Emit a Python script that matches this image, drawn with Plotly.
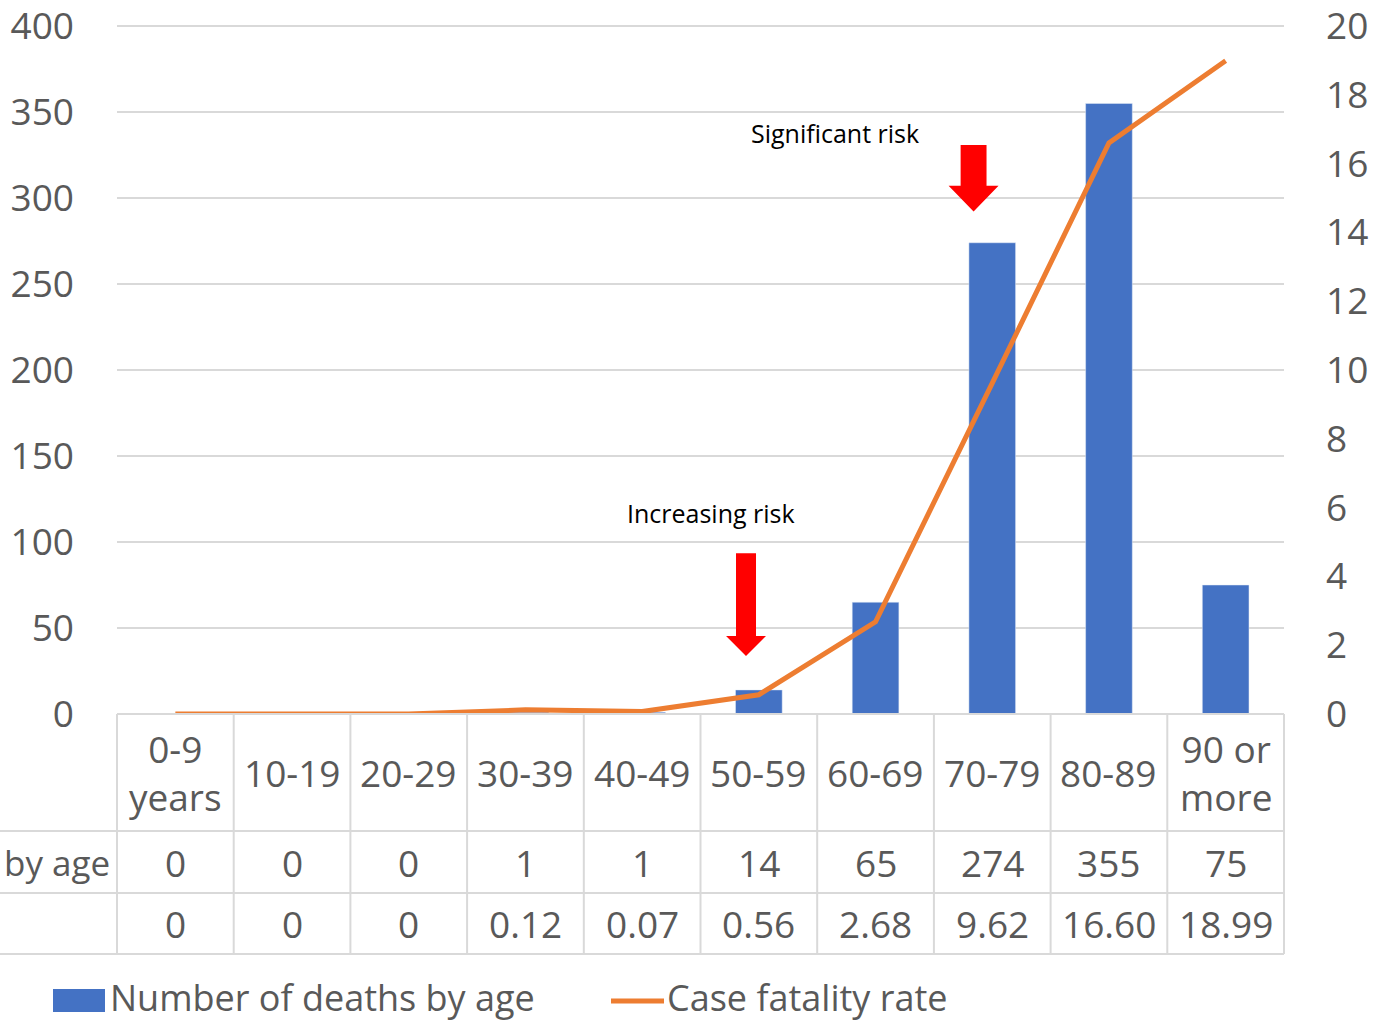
import plotly.graph_objects as go

categories = ["0-9<br>years", "10-19", "20-29", "30-39", "40-49", "50-59",
              "60-69", "70-79", "80-89", "90 or<br>more"]
deaths = [0, 0, 0, 1, 1, 14, 65, 274, 355, 75]
cfr = [0, 0, 0, 0.12, 0.07, 0.56, 2.68, 9.62, 16.60, 18.99]
cfr_labels = ["0", "0", "0", "0.12", "0.07", "0.56", "2.68", "9.62", "16.60", "18.99"]
series_names = ["Number of deaths by age", "Case fatality rate"]
left_ticks = [0, 50, 100, 150, 200, 250, 300, 350, 400]
right_ticks = [0, 2, 4, 6, 8, 10, 12, 14, 16, 18, 20]

BLUE = "#4472C4"
ORANGE = "#ED7D31"
GRAY = "#595959"
GRID = "#d9d9d9"
FONT = "Open Sans"
FS = 37

W, H = 1383, 1022
L, R, T, B = 117, 99, 25, 308
PW = W - L - R
PH = H - T - B
n = len(categories)
xs = list(range(n))


def py2paper(py):
    return (H - B - py) / PH


def px2paper(px):
    return (px - L) / PW


fig = go.Figure()
fig.add_trace(go.Bar(x=xs, y=deaths, name=series_names[0], marker_color=BLUE,
                     width=0.4, yaxis="y", showlegend=False))
fig.add_trace(go.Scatter(x=xs, y=cfr, name=series_names[1], mode="lines",
                         line=dict(color=ORANGE, width=5), yaxis="y2",
                         showlegend=False))

shapes = []
annotations = []

# data table grid
row_lines = [714, 831, 893, 954]
for i, py in enumerate(row_lines):
    x0 = px2paper(117) if i == 0 else px2paper(0)
    shapes.append(dict(type="line", xref="paper", yref="paper",
                       x0=x0, x1=1, y0=py2paper(py), y1=py2paper(py),
                       line=dict(color=GRID, width=2)))
for i in range(n + 1):
    xp = i / n
    shapes.append(dict(type="line", xref="paper", yref="paper",
                       x0=xp, x1=xp, y0=py2paper(714), y1=py2paper(954),
                       line=dict(color=GRID, width=2)))

row_centers = [772.5, 862, 923.5]
for i in range(n):
    annotations.append(dict(x=xs[i], xref="x", y=py2paper(row_centers[0]), yref="paper",
                            text=categories[i], showarrow=False,
                            font=dict(family=FONT, size=FS, color=GRAY),
                            xanchor="center", yanchor="middle"))
    annotations.append(dict(x=xs[i], xref="x", y=py2paper(row_centers[1]), yref="paper",
                            text=str(deaths[i]), showarrow=False,
                            font=dict(family=FONT, size=FS, color=GRAY),
                            xanchor="center", yanchor="middle"))
    annotations.append(dict(x=xs[i], xref="x", y=py2paper(row_centers[2]), yref="paper",
                            text=cfr_labels[i], showarrow=False,
                            font=dict(family=FONT, size=FS, color=GRAY),
                            xanchor="center", yanchor="middle"))
annotations.append(dict(x=px2paper(112), xref="paper", y=py2paper(row_centers[1]), yref="paper",
                        text="by age", showarrow=False,
                        font=dict(family=FONT, size=35, color=GRAY),
                        xanchor="right", yanchor="middle"))

# risk annotations
annotations.append(dict(x=5.65, y=338, xref="x", yref="y", text="Significant risk",
                        showarrow=False, font=dict(family=FONT, size=25, color="black"),
                        xanchor="center", yanchor="middle"))
annotations.append(dict(x=4.59, y=116.7, xref="x", yref="y", text="Increasing risk",
                        showarrow=False, font=dict(family=FONT, size=25, color="black"),
                        xanchor="center", yanchor="middle"))


def arrow(xc, sw, hw, ytop, yh, ytip):
    return (f"M {xc-sw},{ytop} L {xc+sw},{ytop} L {xc+sw},{yh} L {xc+hw},{yh} "
            f"L {xc},{ytip} L {xc-hw},{yh} L {xc-sw},{yh} Z")


shapes.append(dict(type="path", xref="x", yref="y",
                   path=arrow(4.89, 0.0857, 0.171, 93.5, 45.3, 33.7),
                   fillcolor="#FF0000", line=dict(width=0)))
shapes.append(dict(type="path", xref="x", yref="y",
                   path=arrow(6.84, 0.111, 0.214, 330.9, 307.1, 292.2),
                   fillcolor="#FF0000", line=dict(width=0)))

# custom legend
LEG_Y = 997
shapes.append(dict(type="rect", xref="paper", yref="paper",
                   x0=px2paper(53), x1=px2paper(105), y0=py2paper(989), y1=py2paper(1012),
                   fillcolor=BLUE, line=dict(width=0)))
annotations.append(dict(x=px2paper(108), y=py2paper(LEG_Y), xref="paper", yref="paper",
                        text=series_names[0], showarrow=False,
                        font=dict(family=FONT, size=36, color=GRAY),
                        xanchor="left", yanchor="middle"))
shapes.append(dict(type="line", xref="paper", yref="paper",
                   x0=px2paper(611), x1=px2paper(664), y0=py2paper(1001), y1=py2paper(1001),
                   line=dict(color=ORANGE, width=5)))
annotations.append(dict(x=px2paper(665), y=py2paper(LEG_Y), xref="paper", yref="paper",
                        text=series_names[1], showarrow=False,
                        font=dict(family=FONT, size=36, color=GRAY),
                        xanchor="left", yanchor="middle"))

fig.update_layout(
    width=W, height=H,
    margin=dict(l=L, r=R, t=T, b=B, pad=0, autoexpand=False),
    paper_bgcolor="white", plot_bgcolor="white",
    font=dict(family=FONT, size=FS, color=GRAY),
    bargap=0.6,
    xaxis=dict(range=[-0.5, n - 0.5], showticklabels=False, showgrid=False,
               zeroline=False, showline=False, ticks="", automargin=False),
    yaxis=dict(range=[0, 400.6], tickvals=left_ticks, showgrid=True, gridcolor=GRID,
               gridwidth=1.5, zeroline=False, showline=False, ticks="", automargin=False,
               ticklabeloverflow="allow",
               ticklabelstandoff=42, tickfont=dict(family=FONT, size=FS, color=GRAY)),
    yaxis2=dict(range=[0, 20.03], tickvals=right_ticks, overlaying="y", side="right",
                showgrid=False, zeroline=False, showline=False, ticks="", automargin=False,
                ticklabeloverflow="allow",
                ticklabelstandoff=41, tickfont=dict(family=FONT, size=FS, color=GRAY)),
    shapes=shapes,
    annotations=annotations,
)

fig.write_html("out.html")
